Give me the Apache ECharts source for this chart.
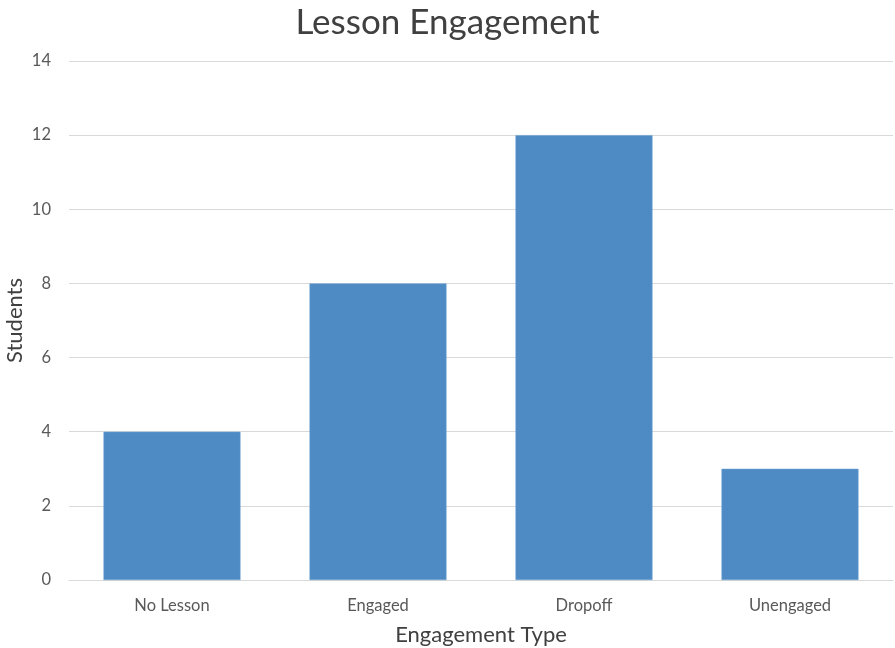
<!DOCTYPE html>
<html><head><meta charset="utf-8">
<script src="https://cdn.jsdelivr.net/npm/echarts@6/dist/echarts.min.js"></script>
<style>html,body{margin:0;padding:0;background:#fff}#c{width:895px;height:648px}</style>
</head><body><div id="c"></div>
<script>
const categories = ["No Lesson", "Engaged", "Dropoff", "Unengaged"];
const students = [4, 8, 12, 3];
const chart = echarts.init(document.getElementById('c'));
const font = 'Lato, "Open Sans", sans-serif';
chart.setOption({
  animation: false,
  title: {text: 'Lesson Engagement', left: 'center', top: 0,
    textStyle: {fontFamily: font, fontSize: 35, fontWeight: 'normal', color: '#404040'}},
  grid: {left: 69, right: 2, top: 61, bottom: 68, outerBoundsMode: 'none', containLabel: false},
  xAxis: {type: 'category', data: categories,
    name: 'Engagement Type', nameLocation: 'middle', nameGap: 44,
    nameTextStyle: {fontFamily: font, fontSize: 22, color: '#404040'},
    axisLine: {lineStyle: {color: '#d9d9d9'}}, axisTick: {show: false},
    axisLabel: {fontFamily: font, fontSize: 16.5, color: '#595959', margin: 17}},
  yAxis: {type: 'value', min: 0, max: 14, interval: 2,
    name: 'Students', nameLocation: 'middle', nameGap: 43, nameMoveOverlap: false,
    nameTextStyle: {fontFamily: font, fontSize: 22, color: '#404040'},
    axisLine: {show: false}, axisTick: {show: false},
    splitLine: {lineStyle: {color: '#d9d9d9'}},
    axisLabel: {fontFamily: font, fontSize: 16.5, color: '#595959', margin: 18}},
  series: [{type: 'bar', data: students, barWidth: '66.5%',
    itemStyle: {color: '#4E8BC5', borderColor: '#6b9fd0', borderWidth: 0.5}}]
});
</script></body></html>
